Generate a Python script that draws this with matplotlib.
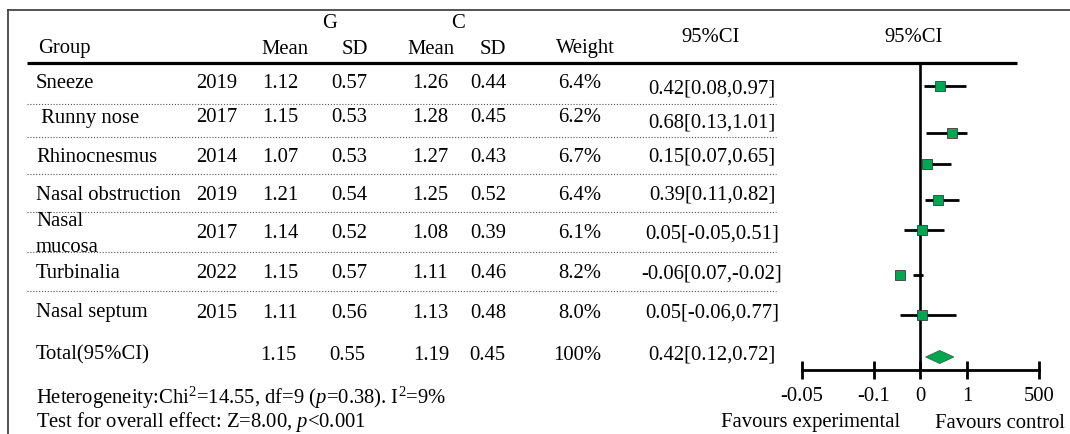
import numpy as np
import matplotlib
matplotlib.use('Agg')
import matplotlib.pyplot as plt

plt.rcParams['font.family'] = ['Liberation Serif', 'DejaVu Serif']
plt.rcParams['mathtext.fontset'] = 'custom'
plt.rcParams['mathtext.rm'] = 'Liberation Serif'
plt.rcParams['mathtext.it'] = 'Liberation Serif:italic'

# study rows
groups = ['Sneeze', ' Runny nose', 'Rhinocnesmus', 'Nasal obstruction',
          'Nasal\nmucosa', 'Turbinalia', 'Nasal septum']
years = ['2019', '2017', '2014', '2019', '2017', '2022', '2015']
gMean = ['1.12', '1.15', '1.07', '1.21', '1.14', '1.15', '1.11']
gSd = ['0.57', '0.53', '0.53', '0.54', '0.52', '0.57', '0.56']
cMean = ['1.26', '1.28', '1.27', '1.25', '1.08', '1.11', '1.13']
cSd = ['0.44', '0.45', '0.43', '0.52', '0.39', '0.46', '0.48']
weights = [6.4, 6.2, 6.7, 6.4, 6.1, 8.2, 8.0]
estimate = [0.42, 0.68, 0.15, 0.39, 0.05, -0.06, 0.05]
ciLow = [0.08, 0.13, 0.07, 0.11, -0.05, 0.07, -0.06]
ciHigh = [0.97, 1.01, 0.65, 0.82, 0.51, -0.02, 0.77]

# pooled row
totalGMean, totalGSd = '1.15', '0.55'
totalCMean, totalCSd = '1.19', '0.45'
totalWeight = '100%'
totalEst, totalLow, totalHigh = 0.42, 0.12, 0.72

tickLabels = ['-0.05', '-0.1', '0', '1', '500']

W, H = 1070, 434
FS = 14.9
rowY = [84, 118, 157, 195, 234, 274, 313]
ciTextY = [89, 123, 157, 195, 234, 274, 313]
markY = [86, 133, 164, 200, 230, 275, 315]
totalY = 355
dividerY = [104, 137, 174, 212, 252, 291]
lineGap = 26


def fmtCi(e, lo, hi):
    return f'{e:.2f}[{lo:.2f},{hi:.2f}]'


fig = plt.figure(figsize=(W / 100, H / 100), dpi=100)
bg = fig.add_axes([0, 0, 1, 1])
bg.set_xlim(0, W)
bg.set_ylim(H, 0)
bg.axis('off')

# frame and rules
bg.plot([7.5, 7.5], [9.5, H], color='#444444', lw=1.3)
bg.plot([7.5, W], [9.5, 9.5], color='#444444', lw=1.3)
bg.plot([27, 1017], [62.5, 62.5], color='black', lw=2.3, solid_capstyle='butt')
for y in dividerY:
    bg.plot([27, 776], [y, y], color='#555555', lw=0.8, linestyle=(0, (1, 1.6)))

# header
txt = dict(fontsize=FS, va='center', color='black')
bg.text(330, 23, 'G', ha='center', **txt)
bg.text(458, 23, 'C', ha='center', **txt)
bg.text(38, 48, 'Group', ha='left', **txt)
bg.text(285, 50, 'Mean', ha='center', **txt)
bg.text(355, 50, 'SD', ha='center', **txt)
bg.text(431, 50, 'Mean', ha='center', **txt)
bg.text(493, 50, 'SD', ha='center', **txt)
bg.text(585, 49, 'Weight', ha='center', **txt)
bg.text(711, 38, '95%CI', ha='center', **txt)
bg.text(914, 38, '95%CI', ha='center', **txt)

# table body
for i, name in enumerate(groups):
    y = rowY[i]
    parts = name.split('\n')
    y0 = y - lineGap * (len(parts) - 1) / 2
    for k, part in enumerate(parts):
        bg.text(36, y0 + k * lineGap, part, ha='left', **txt)
    bg.text(217, y, years[i], ha='center', **txt)
    bg.text(280, y, gMean[i], ha='center', **txt)
    bg.text(349, y, gSd[i], ha='center', **txt)
    bg.text(430, y, cMean[i], ha='center', **txt)
    bg.text(488, y, cSd[i], ha='center', **txt)
    bg.text(601, y, f'{weights[i]:.1f}%', ha='right', **txt)
    bg.text(712, ciTextY[i], fmtCi(estimate[i], ciLow[i], ciHigh[i]), ha='center', **txt)

bg.text(36, totalY, 'Total(95%CI)', ha='left', **txt)
bg.text(278, totalY, totalGMean, ha='center', **txt)
bg.text(347, totalY, totalGSd, ha='center', **txt)
bg.text(431, totalY, totalCMean, ha='center', **txt)
bg.text(487, totalY, totalCSd, ha='center', **txt)
bg.text(601, totalY, totalWeight, ha='right', **txt)
bg.text(712, totalY, fmtCi(totalEst, totalLow, totalHigh), ha='center', **txt)

bg.text(36, 398, r'Heterogeneity:Chi$^{2}$=14.55, df=9 ($p$=0.38). I$^{2}$=9%', ha='left', **txt)
bg.text(36, 422, r'Test for overall effect: Z=8.00, $p$<0.001', ha='left', **txt)
bg.text(811, 423, 'Favours experimental', ha='center', **txt)
bg.text(1000, 423, 'Favours control', ha='center', **txt)

# forest plot: negative side of the axis is stretched
stretch = 7.0


def forward(v):
    v = np.asarray(v, dtype=float)
    return np.where(v < 0, v * stretch, v)


def inverse(u):
    u = np.asarray(u, dtype=float)
    return np.where(u < 0, u / stretch, u)


pxPerUnit = 47.0
zeroPx = 920.0
left, right, top, bottom = 780, 1060, 62.5, 370
fx = fig.add_axes([left / W, 1 - bottom / H, (right - left) / W, (bottom - top) / H])
fx.patch.set_alpha(0)
fx.set_xscale('function', functions=(forward, inverse))
fx.set_xlim(inverse((left - zeroPx) / pxPerUnit), inverse((right - zeroPx) / pxPerUnit))
fx.set_ylim(bottom, top)
for side in ('top', 'right', 'left'):
    fx.spines[side].set_visible(False)
fx.spines['bottom'].set_linewidth(2)

tickPos = [float(inverse((p - zeroPx) / pxPerUnit)) for p in (802, 874, 920, 967, 1039)]
fx.spines['bottom'].set_bounds(tickPos[0], tickPos[-1])
fx.set_xticks(tickPos)
fx.set_xticklabels(tickLabels)
fx.xaxis.set_minor_locator(matplotlib.ticker.NullLocator())
fx.tick_params(axis='x', direction='inout', length=13, width=2, labelsize=FS, pad=6)
fx.set_yticks([])

fx.axvline(0, color='black', lw=1.9, zorder=1)

green = '#00a651'
edge = '#3a3a3a'
for i in range(len(estimate)):
    fx.plot([ciLow[i], ciHigh[i]], [markY[i], markY[i]], color='black', lw=2, zorder=2,
            solid_capstyle='butt')
    fx.plot(estimate[i], markY[i], marker='s', markersize=np.sqrt(weights[i]) * 2.75,
            markerfacecolor=green, markeredgecolor=edge, markeredgewidth=0.6, zorder=3)

half = 6.5
fx.fill([totalLow, totalEst, totalHigh, totalEst],
        [357, 357 - half, 357, 357 + half],
        facecolor=green, edgecolor='#2e6b3e', lw=0.6, zorder=3)

fig.savefig('out.png', dpi=100)
